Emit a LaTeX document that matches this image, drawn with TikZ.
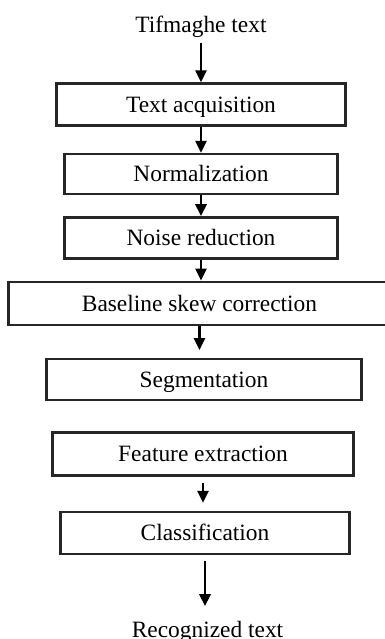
\documentclass[tikz,border=0pt]{standalone}
\usepackage{fontspec}
\setmainfont{Liberation Serif}
\usetikzlibrary{arrows.meta,positioning}

\begin{document}
\begin{tikzpicture}[font=\fontsize{11.7}{14}\selectfont,
    stage/.style={draw=black!85,line width=1.2pt,inner sep=0pt,
    text height=7.7pt,text depth=0pt},
    lbl/.style={inner sep=0pt,text height=7.7pt,text depth=0pt},
    flow/.style={line width=1.3pt,-{Triangle[length=6pt,width=5.5pt]},
    to path={(\tikztostart.south) -- (\tikztostart.south |- \tikztotarget.north)}}]
 \useasboundingbox (0,0) rectangle (192.5pt,-319.5pt);
 \clip (0,0) rectangle (192.5pt,-319.5pt);
 \node[lbl] (src) at (100.5pt,-12.25pt) {Tifmaghe text};
 \node[below=24.9pt of src,stage,minimum width=144.5pt,minimum height=21pt] (acq)
  {Text acquisition};
 \node[below=13pt of acq,stage,minimum width=136.5pt,minimum height=20pt] (norm)
  {Normalization};
 \node[below=10.5pt of norm,stage,minimum width=136.5pt,minimum height=20.5pt] (noise)
  {Noise reduction};
 \node[below=10.5pt of noise,xshift=-0.75pt,stage,minimum width=191pt,minimum height=21.5pt] (skew)
  {Baseline skew correction};
 \node[below=16pt of skew,xshift=2.25pt,stage,minimum width=157.5pt,minimum height=20.5pt] (seg)
  {Segmentation};
 \node[below=15pt of seg,xshift=-0.5pt,stage,minimum width=150.5pt,minimum height=21.5pt] (feat)
  {Feature extraction};
 \node[below=17pt of feat,xshift=1pt,stage,minimum width=144.5pt,minimum height=21pt] (cls)
  {Classification};
 \node[below=33pt of cls,xshift=1.25pt,lbl] (out)
  {Recognized text};
 \path[flow] (src) edge[shorten <=5.4pt] (acq)
  (acq) edge (norm) (norm) edge (noise) (noise) edge (skew)
  (skew) edge[shorten >=4pt] (seg)
  (feat) edge[shorten <=3pt,shorten >=4pt] (cls)
  (cls) edge[shorten <=3pt,shorten >=7.5pt] (out);
\end{tikzpicture}
\end{document}
